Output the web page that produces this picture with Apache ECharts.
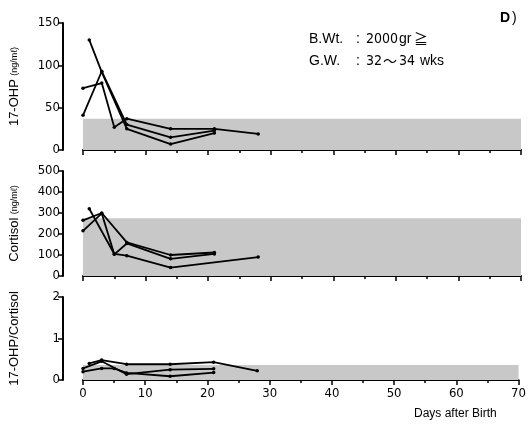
<!DOCTYPE html>
<html><head><meta charset="utf-8">
<script src="https://cdn.jsdelivr.net/npm/echarts@6/dist/echarts.min.js"></script>
<style>html,body{margin:0;padding:0;background:#fff}#c{width:529px;height:428px}</style>
</head><body><div id="c"></div>
<script>
// ---- data ----
var xTicks = [0, 10, 20, 30, 40, 50, 60, 70];
var ohpA = [[1,130],[3,92],[7,25],[14,7],[21,20]];
var ohpB = [[0,73],[3,79],[5,27],[7,37],[14,25],[21,25],[28,19]];
var ohpC = [[0,41],[3,93],[7,30],[14,15],[21,23]];
var cortP = [[0,265],[3,300],[7,160],[14,100],[21,112]];
var cortQ = [[1,320],[5,105],[7,97],[14,40],[28,90]];
var cortR = [[0,215],[3,298],[5,103],[7,155],[14,82],[21,105]];
var ratio1 = [[1,0.40],[3,0.48],[7,0.38],[14,0.38],[21,0.43],[28,0.22]];
var ratio2 = [[0,0.28],[3,0.45],[7,0.14],[14,0.25],[21,0.27]];
var ratio3 = [[0,0.20],[3,0.28],[5,0.28],[7,0.17],[14,0.09],[21,0.18]];
var bandTop = [37, 275, 0.36];
var yMax = [150, 500, 2];
var yInterval = [50, 100, 1];

var chart = echarts.init(document.getElementById('c'), null, {renderer:'canvas'});
var narrow = "'DejaVu Sans Condensed', 'Liberation Sans'";
var grids = [
  {left:77, right:8, top:23, height:127},
  {left:77, right:8, top:171, height:105},
  {left:77, right:8, top:297, height:83}
];
function xAx(i){
  return {type:'value', gridIndex:i, min:0, max:70, interval:10,
    axisLine:{onZero:false, lineStyle:{color:'#000', width:2}},
    axisTick:{show:true, length:5, lineStyle:{color:'#000', width:1.5}},
    minorTick:{show:true, splitNumber:2, length:3, lineStyle:{color:'#000', width:1.5}},
    splitLine:{show:false},
    axisLabel:{show:i===2, color:'#000', fontFamily:narrow, fontSize:13, margin:7}};
}
var names = [
  '{a|17-OHP} {b|(ng/mℓ)}',
  '{a|Cortisol} {b|(ng/mℓ)}',
  '{a|17-OHP/Cortisol}'
];
function yAx(i){
  return {type:'value', gridIndex:i, min:0, max:yMax[i], interval:yInterval[i], offset:20,
    axisLine:{show:true, onZero:false, lineStyle:{color:'#000', width:2}},
    axisTick:{show:true, length:5, lineStyle:{color:'#000', width:1.5}},
    splitLine:{show:false},
    axisLabel:{color:'#000', fontFamily:narrow, fontSize:13, margin:3},
    name:names[i], nameLocation:'middle', nameRotate:90, nameGap:42,
    nameTextStyle:{rich:{a:{fontFamily:'Liberation Sans', fontSize:13, color:'#000'},
                         b:{fontFamily:'Liberation Sans', fontSize:9, color:'#000'}}}};
}
function band(i){
  return {type:'line', xAxisIndex:i, yAxisIndex:i, data:[], z:1, silent:true,
    markArea:{silent:true, itemStyle:{color:'#c8c8c8', opacity:1},
      data:[[{xAxis:0, yAxis:0},{xAxis:70, yAxis:bandTop[i]}]]}};
}
function ln(i, d){
  return {type:'line', xAxisIndex:i, yAxisIndex:i, data:d, z:3, silent:true,
    symbol:'circle', symbolSize:3.5, itemStyle:{color:'#000'},
    lineStyle:{color:'#000', width:1.8}, animation:false};
}
var f14 = "14px 'Liberation Sans'";
var f14n = "14px " + narrow;
chart.setOption({
  animation:false,
  grid:grids,
  xAxis:[xAx(0), xAx(1), xAx(2)],
  yAxis:[yAx(0), yAx(1), yAx(2)],
  series:[band(0), band(1), band(2),
    ln(0, ohpA), ln(0, ohpB), ln(0, ohpC),
    ln(1, cortP), ln(1, cortQ), ln(1, cortR),
    ln(2, ratio1), ln(2, ratio2), ln(2, ratio3)],
  graphic:[
    {type:'text', left:500, top:11, style:{text:'D', font:"bold 14px 'Liberation Sans'", fill:'#000'}},
    {type:'text', left:512, top:11, style:{text:')', font:f14, fill:'#000'}},
    {type:'text', left:309, top:32, style:{text:'B.Wt.', font:f14, fill:'#000'}},
    {type:'text', left:356, top:32, style:{text:':', font:f14, fill:'#000'}},
    {type:'text', left:366, top:32, style:{text:'2000', font:f14n, fill:'#000'}},
    {type:'text', left:399, top:32, style:{text:'gr', font:f14, fill:'#000'}},
    {type:'text', left:414, top:32, style:{text:'≧', font:"14px 'Noto Sans CJK JP'", fill:'#000'}},
    {type:'text', left:309, top:54, style:{text:'G.W.', font:f14, fill:'#000'}},
    {type:'text', left:356, top:54, style:{text:':', font:f14, fill:'#000'}},
    {type:'text', left:366, top:54, style:{text:'32', font:f14n, fill:'#000'}},
    {type:'text', left:383, top:54, style:{text:'～', font:"14px 'Noto Sans CJK JP'", fill:'#000'}},
    {type:'text', left:399, top:54, style:{text:'34', font:f14n, fill:'#000'}},
    {type:'text', left:420, top:54, style:{text:'wks', font:f14, fill:'#000'}},
    {type:'text', left:414, top:408, style:{text:'Days after Birth', font:"12px 'Liberation Sans'", fill:'#000'}}
  ]
});
</script></body></html>
